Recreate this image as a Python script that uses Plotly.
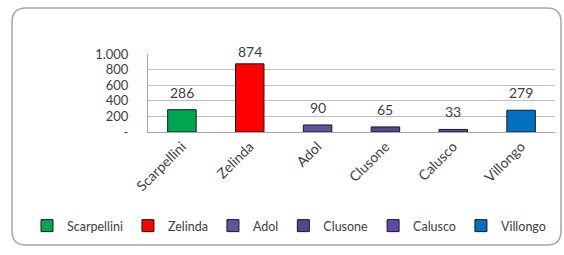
import plotly.graph_objects as go

categories = ["Scarpellini", "Zelinda", "Adol", "Clusone", "Calusco", "Villongo"]
values = [286, 874, 90, 65, 33, 279]
colors = ["#00A651", "#FF0000", "#5E55A0", "#4E4A8E", "#6247AA", "#0070C0"]
tick_vals = [0, 200, 400, 600, 800, 1000]
tick_text = ["-", "200", "400", "600", "800", "1.000"]

W, H = 564, 255
L, R, T, B = 148, 555, 54, 132  # plot area in px

FONT = "Lato"
TXT = "#404040"

fig = go.Figure()
for c, v, col in zip(categories, values, colors):
    fig.add_trace(go.Bar(
        x=[c], y=[v], name=c,
        marker=dict(color=col, line=dict(color="#1a1a1a", width=1)),
        width=0.42,
        cliponaxis=False,
    ))
    fig.add_annotation(x=c, y=v, text=f"{v}", showarrow=False,
                       yanchor="bottom", yshift=7 if v < 800 else 2,
                       font=dict(size=14, color=TXT, family=FONT))

def px2paper(px, py):
    return (px - L) / (R - L), (B - py) / (B - T)

def P(cmd, px, py):
    xx, yy = px2paper(px, py)
    return f"{cmd}{xx:.5f},{yy:.5f}"

# rounded border rectangle (px coords)
x0, y0, x1, y1, r = 12, 8, 561, 245, 14
path = " ".join([
    P("M", x0 + r, y0), P("L", x1 - r, y0), P("Q", x1, y0), P("", x1, y0 + r),
    P("L", x1, y1 - r), P("Q", x1, y1), P("", x1 - r, y1),
    P("L", x0 + r, y1), P("Q", x0, y1), P("", x0, y1 - r),
    P("L", x0, y0 + r), P("Q", x0, y0), P("", x0 + r, y0), "Z"])
fig.add_shape(type="path", path=path, xref="paper", yref="paper",
              line=dict(color="#A6A6A6", width=1.5), fillcolor="rgba(0,0,0,0)", layer="below")

lx, ly = px2paper(27, 226)
fig.update_layout(
    width=W, height=H,
    margin=dict(l=L, r=W - R, t=T, b=H - B, pad=0, autoexpand=False),
    paper_bgcolor="white", plot_bgcolor="white",
    barmode="overlay",
    showlegend=True,
    legend=dict(orientation="h", xref="paper", yref="paper",
                x=lx, xanchor="left",
                y=ly, yanchor="middle",
                font=dict(size=12.5, color=TXT, family=FONT),
                itemwidth=30, tracegroupgap=0, traceorder="normal",
                bgcolor="rgba(0,0,0,0)"),
    font=dict(family=FONT, color=TXT),
)
fig.update_xaxes(
    categoryorder="array", categoryarray=categories,
    tickangle=-45, tickfont=dict(size=14, color=TXT, family=FONT),
    showline=True, linecolor="#A6A6A6", linewidth=1, mirror=False,
    showgrid=False, ticks="", ticklen=0, automargin=False,
)
fig.update_yaxes(
    range=[0, 1000], tickvals=tick_vals, ticktext=tick_text,
    tickfont=dict(size=13, color=TXT, family=FONT),
    showgrid=True, gridcolor="#BFBFBF", gridwidth=1,
    showline=True, linecolor="#A6A6A6", linewidth=1,
    ticks="outside", ticklen=16, tickcolor="rgba(0,0,0,0)",
    zeroline=False, automargin=False,
)
fig.write_html("out.html", config={"displayModeBar": False},
               post_script="document.body.style.margin='0';")
